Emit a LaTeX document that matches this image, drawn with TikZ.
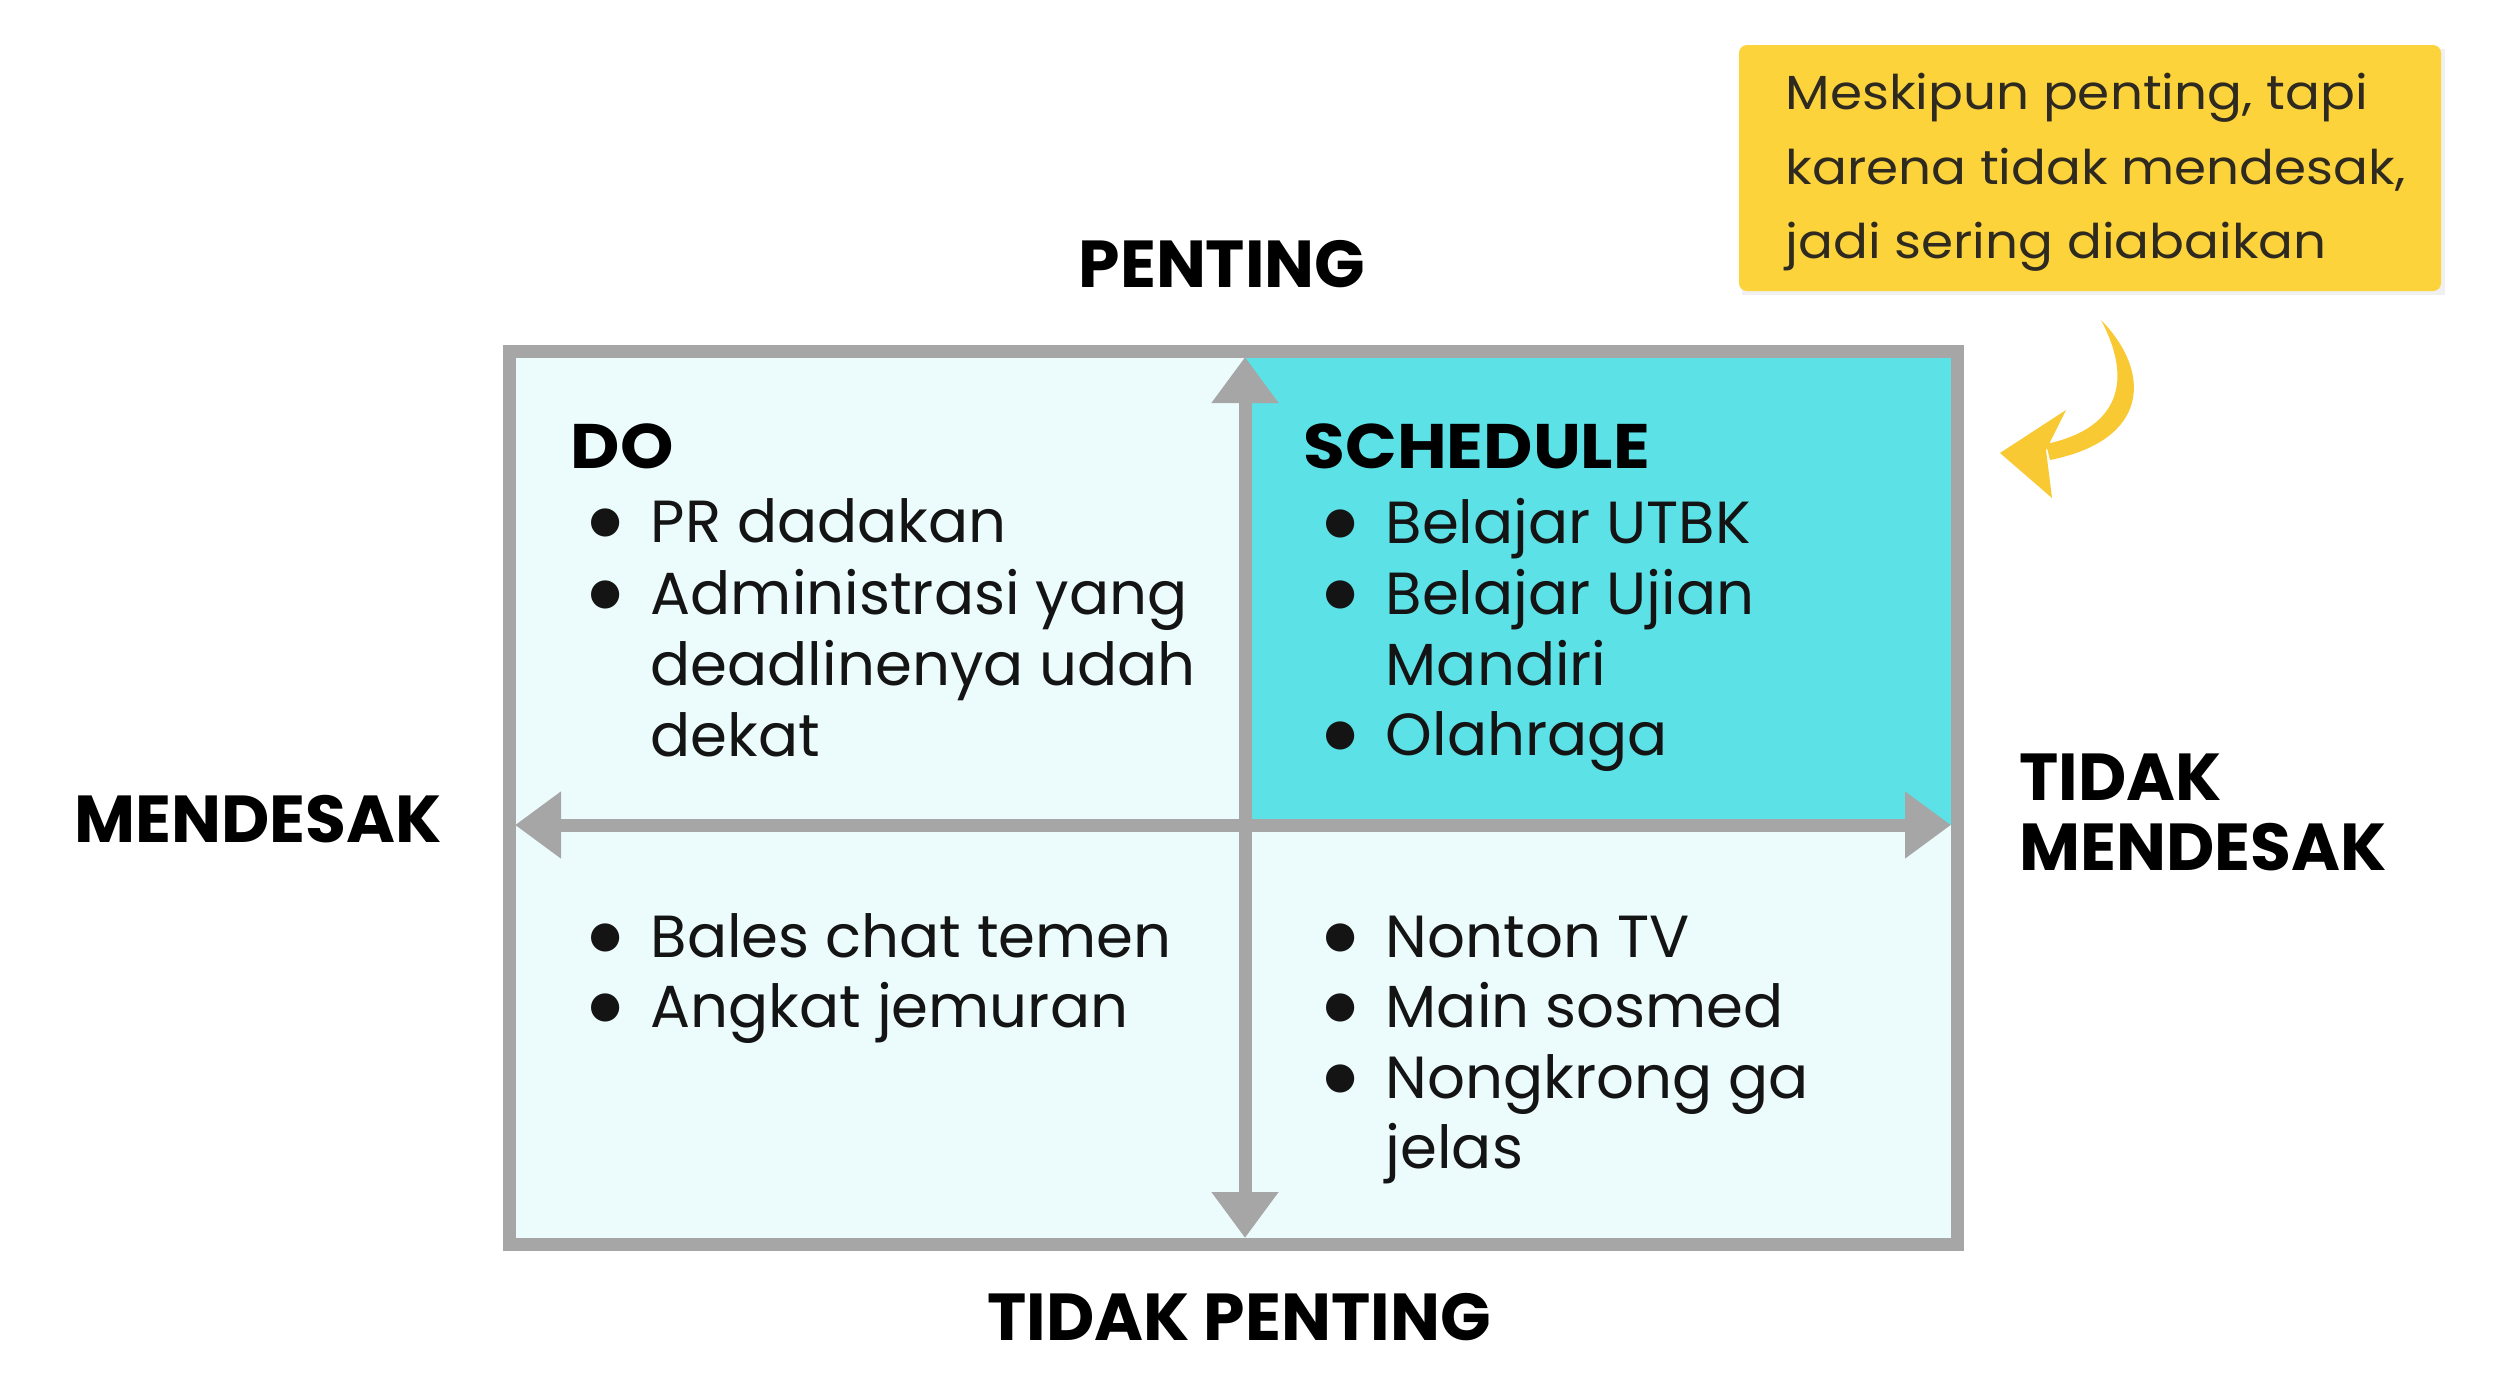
\documentclass[tikz,border=0pt]{standalone}
\usepackage{fontspec}
\setmainfont{Poppins}
\newfontfamily\qwide{Poppins}[FakeStretch=1.08]
\newfontfamily\qsym{DejaVu Sans}
\usetikzlibrary{arrows.meta}
\definecolor{qteal}{HTML}{5CE1E6}
\definecolor{qlight}{HTML}{ECFCFD}
\definecolor{qgrey}{HTML}{A6A6A6}
\definecolor{qyellow}{HTML}{FDD33C}
\definecolor{qarrow}{HTML}{F9C933}
\definecolor{qtext}{HTML}{141414}
\definecolor{qnotetext}{HTML}{2E2A20}
\newcommand\qb{\llap{\makebox[0pt]{\raisebox{2.7pt}{\qsym\fontsize{10.5pt}{10.5pt}\selectfont ●}}\hspace{4.5mm}}}
\tikzset{
  body/.style={font=\fontsize{16.9pt}{20.4pt}\selectfont, text=qtext, inner sep=0pt, anchor=base west},
  qhead/.style={font=\qwide\bfseries\fontsize{17.9pt}{20pt}\selectfont, text=black, inner sep=0pt, anchor=base west},
  axislab/.style={font=\bfseries\fontsize{18.9pt}{20pt}\selectfont, text=black, inner sep=0pt},
  notetxt/.style={font=\qwide\fontsize{13.6pt}{21pt}\selectfont, text=qnotetext, inner sep=0pt, anchor=base west},
  axisarrow/.style={draw=qgrey, line width=1.3mm, {Triangle[length=4.6mm,width=6.4mm]}-{Triangle[length=4.6mm,width=6.4mm]}}
}
\begin{document}
\begin{tikzpicture}[x=0.1mm,y=-0.1mm]
\useasboundingbox[fill=white] (0,0) rectangle (2505,1375);

% quadrants
\fill[qlight] (509,351) rectangle (1957,1244);
\fill[qteal] (1245,351) rectangle (1957,825);
\draw[qgrey, line width=1.3mm] (509,351) rectangle (1957,1244);

% axes
\coordinate (vt) at (1245,357);
\coordinate (vb) at (1245,1238);
\coordinate (hl) at (515,825);
\coordinate (hr) at (1951,825);
\draw[axisarrow] (vb) -- (vt);
\draw[axisarrow] (hl) -- (hr);

% axis labels
\node[axislab, anchor=base] (penting) at (1222,287) {PENTING};
\node[axislab, anchor=base] (tpenting) at (1239,1340) {TIDAK PENTING};
\node[axislab, anchor=base] (mendesak) at (258,842) {MENDESAK};
\node[axislab, anchor=base west] (tm1) at (2019,800) {TIDAK};
\node[axislab, anchor=base west] (tm2) at (2019,870) {MENDESAK};

% DO quadrant
\node[qhead] (do) at (570,468) {DO};
\node[body] (do1) at (650,542) {\qb PR dadakan};
\node[body] (do2) at (650,614) {\qb Administrasi yang};
\node[body] (do3) at (650,685) {deadlinenya udah};
\node[body] (do4) at (650,756) {dekat};

% SCHEDULE quadrant
\node[qhead] (sch) at (1303,468) {SCHEDULE};
\node[body] (sc1) at (1385,543) {\qb Belajar UTBK};
\node[body] (sc2) at (1385,614) {\qb Belajar Ujian};
\node[body] (sc3) at (1385,685) {Mandiri};
\node[body] (sc4) at (1385,755) {\qb Olahraga};

% bottom left
\node[body] (bl1) at (650,957) {\qb Bales chat temen};
\node[body] (bl2) at (650,1027) {\qb Angkat jemuran};

% bottom right
\node[body] (br1) at (1385,957) {\qb Nonton TV};
\node[body] (br2) at (1385,1027) {\qb Main sosmed};
\node[body] (br3) at (1385,1098) {\qb Nongkrong ga};
\node[body] (br4) at (1385,1168) {jelas};

% note box
\fill[black, opacity=0.06] (1742,49) rectangle (2445,295);
\fill[qyellow, rounded corners=0.8mm] (1739,45) rectangle (2441,291);
\node[notetxt] (n1) at (1785,109) {Meskipun penting, tapi};
\node[notetxt] (n2) at (1785,184) {karena tidak mendesak,};
\node[notetxt] (n3) at (1785,258) {jadi sering diabaikan};

% curved yellow arrow
\fill[qarrow] (2101,320) .. controls (2152,372) and (2150,440) .. (2050,460)
  -- (2046,444) .. controls (2122,428) and (2132,378) .. (2101,320) -- cycle;
\fill[qarrow] (2000,453) -- (2066,410) -- (2046,450) -- (2052,498) -- cycle;
\end{tikzpicture}
\end{document}
